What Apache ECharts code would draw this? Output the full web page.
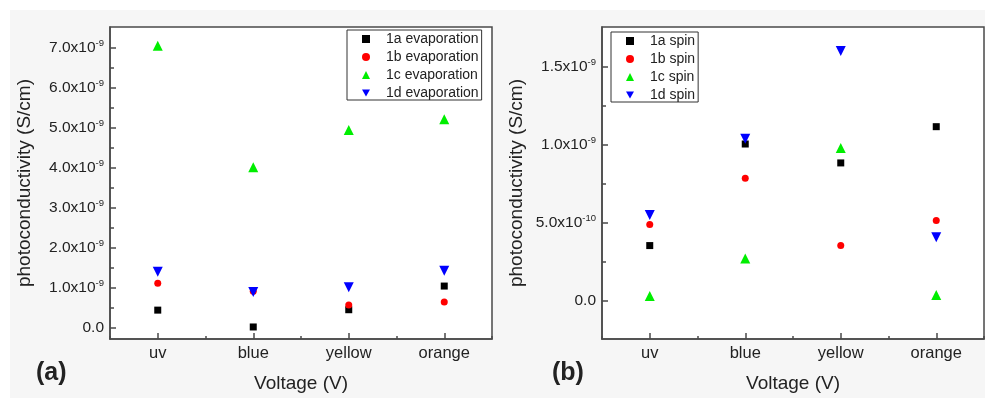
<!DOCTYPE html>
<html>
<head>
<meta charset="utf-8">
<title>photoconductivity</title>
<script src="https://cdn.jsdelivr.net/npm/echarts@6/dist/echarts.min.js"></script>
<style>
  html, body { margin: 0; padding: 0; background: #fff; }
  #chart { width: 985px; height: 398px; }
</style>
</head>
<body>
<div id="chart"></div>
<script>
var categories = ['uv', 'blue', 'yellow', 'orange']

// photoconductivity, in units of 1e-9 S/cm
var evap1a = [0.45, 0.03, 0.46, 1.05]
var evap1b = [1.12, 0.92, 0.58, 0.65]
var evap1c = [7.04, 4.01, 4.94, 5.21]
var evap1d = [1.41, 0.90, 1.02, 1.43]

var spin1a = [0.354, 1.004, 0.883, 1.115]
var spin1b = [0.489, 0.785, 0.355, 0.515]
var spin1c = [0.032, 0.272, 0.979, 0.038]
var spin1d = [0.549, 1.038, 1.60, 0.408]

// tick positions (same units)
var evapTicks = [0, 1, 2, 3, 4, 5, 6, 7]
var evapMinor = [0.5, 1.5, 2.5, 3.5, 4.5, 5.5, 6.5]
var spinTicks = [0, 0.5, 1.0, 1.5]
var spinMinor = [0.25, 0.75, 1.25]

var font = '"Liberation Sans", Arial, sans-serif'
var ink = '#222'
var frame = '#4a4a4a'
var downIcon = 'path://M0,0 L10,0 L5,8.7 Z'

function sciLabel(v) {
  if (Math.abs(v) < 1e-9) return '{m|0.0}'
  if (v >= 1) return '{m|' + v.toFixed(1) + 'x10}{s|-9}'
  return '{m|' + (v * 10).toFixed(1) + 'x10}{s|-10}'
}

var richLabel = {
  m: { fontSize: 15.5, fontFamily: font, color: ink },
  s: { fontSize: 9.5, fontFamily: font, color: ink, padding: [0, 0, 9, 0] }
}

function mainX(gridIndex) {
  return {
    type: 'category', gridIndex: gridIndex, data: categories, position: 'bottom',
    boundaryGap: true,
    name: 'Voltage (V)', nameLocation: 'middle', nameGap: 35,
    nameTextStyle: { fontSize: 19, fontFamily: font, color: ink },
    axisLine: { show: true, onZero: false, lineStyle: { color: frame, width: 1.5 } },
    axisTick: { show: true, alignWithLabel: true, inside: true, length: 6, lineStyle: { color: frame, width: 1.5 } },
    axisLabel: { margin: 6, fontSize: 16.5, fontFamily: font, color: ink },
    splitLine: { show: false }
  }
}
function minorX(gridIndex) {
  return {
    type: 'category', gridIndex: gridIndex, data: categories, position: 'bottom',
    boundaryGap: true,
    axisLine: { show: false, onZero: false },
    axisTick: { show: true, inside: true, length: 3, lineStyle: { color: frame, width: 1.5 } },
    axisLabel: { show: false },
    splitLine: { show: false }
  }
}
function mainY(gridIndex, min, max, ticks) {
  return {
    type: 'value', gridIndex: gridIndex, min: min, max: max, position: 'left',
    name: 'photoconductivity (S/cm)', nameLocation: 'middle', nameGap: 76, nameRotate: 90,
    nameTextStyle: { fontSize: 19, fontFamily: font, color: ink },
    axisLine: { show: true, onZero: false, lineStyle: { color: frame, width: 1.5 } },
    axisTick: { show: true, inside: true, length: 6, customValues: ticks, lineStyle: { color: frame, width: 1.5 } },
    axisLabel: { margin: 6, customValues: ticks, formatter: sciLabel, rich: richLabel },
    splitLine: { show: false }
  }
}
function minorY(gridIndex, min, max, ticks) {
  return {
    type: 'value', gridIndex: gridIndex, min: min, max: max, position: 'left',
    axisLine: { show: false, onZero: false },
    axisTick: { show: true, inside: true, length: 4, customValues: ticks, lineStyle: { color: frame, width: 1.5 } },
    axisLabel: { show: false },
    splitLine: { show: false }
  }
}

function scatter(name, data, xi, yi, shape, color) {
  var s = {
    name: name, type: 'scatter', data: data,
    xAxisIndex: xi, yAxisIndex: yi,
    symbol: shape.symbol, symbolSize: shape.size, symbolKeepAspect: true,
    itemStyle: { color: color, opacity: 1 },
    emphasis: { disabled: true }
  }
  if (shape.rotate) s.symbolRotate = shape.rotate
  return s
}
var sq = { symbol: 'rect', size: 7 }
var dot = { symbol: 'circle', size: 7 }
var up = { symbol: 'triangle', size: 10 }
var down = { symbol: 'triangle', size: 10, rotate: 180 }

function legend(names, left, top) {
  return {
    orient: 'vertical', left: left, top: top,
    data: [
      { name: names[0], icon: 'rect' },
      { name: names[1], icon: 'circle' },
      { name: names[2], icon: 'triangle' },
      { name: names[3], icon: downIcon }
    ],
    itemWidth: 8, itemHeight: 8, itemGap: 4,
    padding: [2, 3, 0, 15],
    borderColor: '#333', borderWidth: 1, backgroundColor: '#fff',
    selectedMode: false,
    textStyle: { fontSize: 14, fontFamily: font, color: ink, lineHeight: 14, padding: [0, 0, 0, 11] }
  }
}

var chart = echarts.init(document.getElementById('chart'), null, { renderer: 'canvas' })
chart.setOption({
  animation: false,
  backgroundColor: '#fff',
  textStyle: { fontFamily: font },
  graphic: [
    { type: 'rect', left: 10, top: 10, z: -100, shape: { width: 975, height: 388 }, style: { fill: '#f6f6f6' } },
    { type: 'text', left: 36, top: 361, style: { text: '(a)', font: 'bold 25px ' + font, fill: ink } },
    { type: 'text', left: 552, top: 361, style: { text: '(b)', font: 'bold 25px ' + font, fill: ink } }
  ],
  grid: [
    { z: -2, left: 110, top: 27, width: 382, height: 314, show: true, backgroundColor: '#fff', borderColor: frame, borderWidth: 1.5 },
    { z: -2, left: 602, top: 27, width: 382, height: 313, show: true, backgroundColor: '#fff', borderColor: frame, borderWidth: 1.5 }
  ],
  legend: [
    legend(['1a evaporation', '1b evaporation', '1c evaporation', '1d evaporation'], 347, 30),
    legend(['1a spin', '1b spin', '1c spin', '1d spin'], 611, 32)
  ],
  xAxis: [mainX(0), minorX(0), mainX(1), minorX(1)],
  yAxis: [
    mainY(0, -0.27, 7.51, evapTicks), minorY(0, -0.27, 7.51, evapMinor),
    mainY(1, -0.244, 1.753, spinTicks), minorY(1, -0.244, 1.753, spinMinor)
  ],
  series: [
    scatter('1a evaporation', evap1a, 0, 0, sq, '#000'),
    scatter('1b evaporation', evap1b, 0, 0, dot, '#ff0000'),
    scatter('1c evaporation', evap1c, 0, 0, up, '#00ee00'),
    scatter('1d evaporation', evap1d, 0, 0, down, '#0000ff'),
    scatter('1a spin', spin1a, 2, 2, sq, '#000'),
    scatter('1b spin', spin1b, 2, 2, dot, '#ff0000'),
    scatter('1c spin', spin1c, 2, 2, up, '#00ee00'),
    scatter('1d spin', spin1d, 2, 2, down, '#0000ff')
  ]
})
</script>
</body>
</html>
